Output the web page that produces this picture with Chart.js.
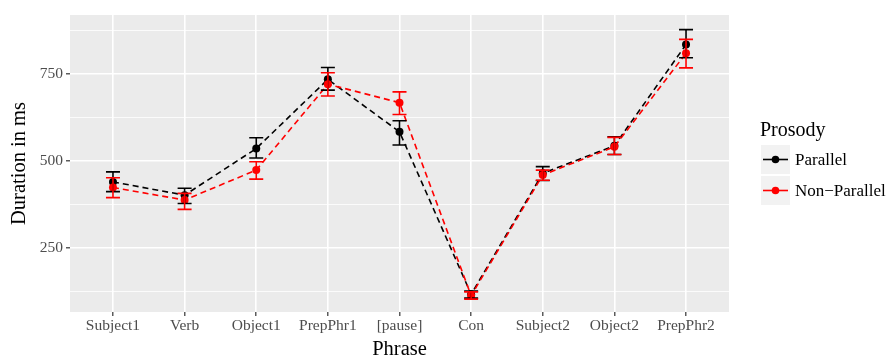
<!DOCTYPE html>
<html>
<head>
<meta charset="utf-8">
<script src="https://cdn.jsdelivr.net/npm/chart.js@4/dist/chart.umd.min.js"></script>
<style>
  html, body { margin: 0; padding: 0; background: #fff; }
  #wrap { width: 890px; height: 360px; }
</style>
</head>
<body>
<div id="wrap"><canvas id="chart" width="890" height="360"></canvas></div>
<script>
// Phrases along the x axis
const phrases = ['Subject1', 'Verb', 'Object1', 'PrepPhr1', '[pause]', 'Con', 'Subject2', 'Object2', 'PrepPhr2'];

// Mean durations (ms) with error bar ends
const parallelMean = [440, 402, 536, 735, 584, 117, 465, 544, 835];
const parallelLow  = [412, 378, 509, 704, 546, 106, 444, 519, 797];
const parallelHigh = [469, 422, 567, 769, 616, 126, 484, 570, 878];

const nonParallelMean = [424, 388, 474, 721, 668, 113, 460, 541, 810];
const nonParallelLow  = [395, 361, 448, 687, 634, 103, 445, 519, 768];
const nonParallelHigh = [452, 407, 498, 754, 699, 124, 474, 568, 850];

const yTicks = [125, 250, 375, 500, 625, 750, 875];
const yLabelled = [250, 500, 750];

const FONT = "'Liberation Serif', serif";

const toPoints = arr => arr.map((v, i) => ({ x: i, y: v }));

// Panel background + error bars + legend
const ggPlugin = {
    id: 'gg',
    beforeDraw(chart) {
        const { ctx, chartArea: a } = chart;
        ctx.save();
        ctx.fillStyle = '#ebebeb';
        ctx.fillRect(a.left, a.top, a.right - a.left, a.bottom - a.top);
        ctx.restore();
    },
    afterDatasetsDraw(chart) {
        const { ctx, scales } = chart;
        const bars = [
            { low: parallelLow, high: parallelHigh, color: '#000000' },
            { low: nonParallelLow, high: nonParallelHigh, color: '#ff0000' }
        ];
        ctx.save();
        ctx.lineWidth = 1.6;
        bars.forEach(b => {
            ctx.strokeStyle = b.color;
            b.low.forEach((lo, i) => {
                const x = scales.x.getPixelForValue(i);
                const y1 = scales.y.getPixelForValue(lo);
                const y2 = scales.y.getPixelForValue(b.high[i]);
                ctx.beginPath();
                ctx.moveTo(x, y1); ctx.lineTo(x, y2);
                ctx.moveTo(x - 7, y1); ctx.lineTo(x + 7, y1);
                ctx.moveTo(x - 7, y2); ctx.lineTo(x + 7, y2);
                ctx.stroke();
            });
        });
        ctx.restore();
    },
    afterDraw(chart) {
        const ctx = chart.ctx;
        ctx.save();
        ctx.fillStyle = '#000';
        ctx.font = '20px ' + FONT;
        ctx.textBaseline = 'alphabetic';
        ctx.fillText('Prosody', 760, 136);
        const items = [
            { label: 'Parallel', color: '#000000', top: 145 },
            { label: 'Non\u2212Parallel', color: '#ff0000', top: 176 }
        ];
        items.forEach(it => {
            ctx.fillStyle = '#f2f2f2';
            ctx.fillRect(761, it.top, 29, 29);
            const cy = it.top + 14.5;
            ctx.strokeStyle = it.color;
            ctx.lineWidth = 1.6;
            ctx.beginPath();
            ctx.moveTo(763, cy); ctx.lineTo(788, cy);
            ctx.stroke();
            ctx.fillStyle = it.color;
            ctx.beginPath();
            ctx.arc(775.5, cy, 3.8, 0, Math.PI * 2);
            ctx.fill();
            ctx.fillStyle = '#000';
            ctx.font = '17px ' + FONT;
            ctx.textBaseline = 'middle';
            ctx.fillText(it.label, 795, cy + 1);
        });
        ctx.restore();
    }
};

const ctx = document.getElementById('chart').getContext('2d');
new Chart(ctx, {
    type: 'line',
    data: {
        datasets: [
            {
                label: 'Parallel',
                data: toPoints(parallelMean),
                borderColor: '#000000',
                backgroundColor: '#000000',
                borderWidth: 1.6,
                borderDash: [6, 4],
                pointRadius: 4,
                pointBorderWidth: 0,
                tension: 0,
                order: 1
            },
            {
                label: 'Non-Parallel',
                data: toPoints(nonParallelMean),
                borderColor: '#ff0000',
                backgroundColor: '#ff0000',
                borderWidth: 1.6,
                borderDash: [6, 4],
                pointRadius: 4,
                pointBorderWidth: 0,
                tension: 0,
                order: 0
            }
        ]
    },
    options: {
        responsive: false,
        animation: false,
        events: [],
        layout: { padding: { left: 0, top: 15, right: 161, bottom: 0 } },
        plugins: {
            legend: { display: false },
            tooltip: { enabled: false }
        },
        scales: {
            x: {
                type: 'linear',
                min: -0.6,
                max: phrases.length - 1 + 0.6,
                afterBuildTicks: s => { s.ticks = phrases.map((_, i) => ({ value: i })); },
                afterFit: s => { s.height = 48; },
                ticks: {
                    autoSkip: false,
                    maxRotation: 0,
                    padding: 1,
                    color: '#4d4d4d',
                    font: { family: FONT, size: 15.5 },
                    callback: v => phrases[v]
                },
                grid: {
                    color: '#ffffff',
                    lineWidth: 1.6,
                    tickLength: 4,
                    tickColor: '#333333',
                    tickWidth: 1.2
                },
                border: { display: false },
                title: {
                    display: true,
                    text: 'Phrase',
                    color: '#000',
                    font: { family: FONT, size: 20.5 },
                    padding: { top: 0, bottom: -2 }
                }
            },
            y: {
                min: 66,
                max: 920,
                afterBuildTicks: s => { s.ticks = yTicks.map(v => ({ value: v })); },
                afterFit: s => { s.width = 70; },
                ticks: {
                    padding: 3,
                    color: '#4d4d4d',
                    font: { family: FONT, size: 15.5 },
                    callback: v => yLabelled.includes(v) ? String(v) : ''
                },
                grid: {
                    color: '#ffffff',
                    lineWidth: c => yLabelled.includes(c.tick.value) ? 1.6 : 0.8,
                    tickLength: 4,
                    tickColor: c => yLabelled.includes(c.tick.value) ? '#333333' : 'rgba(0,0,0,0)',
                    tickWidth: 1.2
                },
                border: { display: false },
                title: {
                    display: true,
                    text: 'Duration in ms',
                    color: '#000',
                    font: { family: FONT, size: 20.5 },
                    padding: { top: 7, bottom: 0 }
                }
            }
        }
    },
    plugins: [ggPlugin]
});
</script>
</body>
</html>
